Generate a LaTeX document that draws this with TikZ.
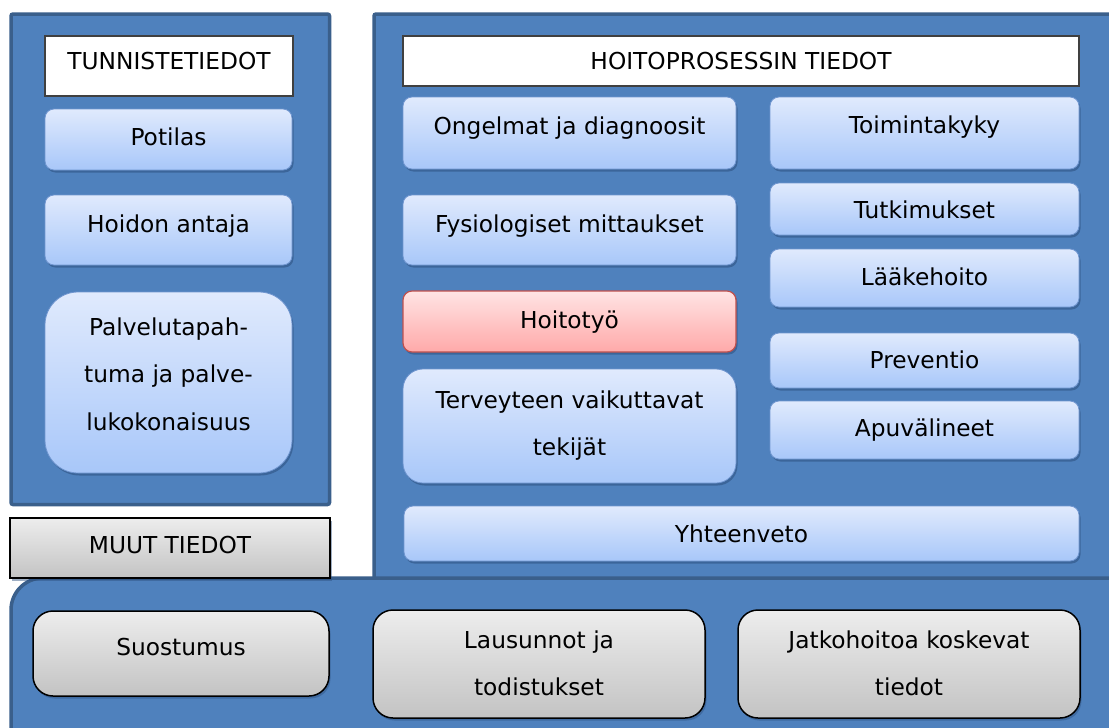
\documentclass[tikz,border=0pt]{standalone}
\usepackage{fontspec}
\setmainfont{DejaVu Sans}
\usetikzlibrary{shadows}
\definecolor{panelblue}{HTML}{4F81BD}
\definecolor{paneldark}{HTML}{3A5F8B}
\definecolor{btop}{HTML}{E0EAFD}
\definecolor{bbot}{HTML}{A8C7F9}
\definecolor{bedge}{HTML}{6F95CF}
\definecolor{ptop}{HTML}{FFE4E4}
\definecolor{pbot}{HTML}{FFA9A9}
\definecolor{pedge}{HTML}{C0504D}
\definecolor{gtop}{HTML}{EDEDED}
\definecolor{gbot}{HTML}{C3C3C3}
\definecolor{shadowblue}{HTML}{2C4F7E}
\newcommand{\mybox}[6]{\node[#2, anchor=north west, minimum width={(#5-#3)*1pt}, minimum height={(#6-#4)*1pt}] (#1) at (#3,#4) {};}
\tikzset{
  panel/.style={fill=panelblue, draw=paneldark, line width=3.5pt},
  basebox/.style={inner sep=0pt, outer sep=0pt},
  bluebox/.style={basebox, rounded corners=9pt, top color=btop, bottom color=bbot, draw=bedge, line width=0.8pt,
     drop shadow={shadow xshift=1.5pt, shadow yshift=-2.5pt, opacity=0.55, fill=shadowblue}},
  pinkbox/.style={basebox, rounded corners=9pt, top color=ptop, bottom color=pbot, draw=pedge, line width=1.2pt,
     drop shadow={shadow xshift=1.5pt, shadow yshift=-2.5pt, opacity=0.55, fill=shadowblue}},
  graybox/.style={basebox, rounded corners=20pt, top color=gtop, bottom color=gbot, draw=black, line width=1.5pt,
     drop shadow={shadow xshift=1.5pt, shadow yshift=-2.5pt, opacity=0.45, fill=shadowblue}},
  headbox/.style={basebox, fill=white, draw=black!75, line width=1.3pt},
  lbl/.style={inner sep=0pt, anchor=base, font=\fontsize{23.3}{47.5}\selectfont},
}
\begin{document}
\begin{tikzpicture}[x=1pt, y=-1pt]
\useasboundingbox (0,0) rectangle (1109,728);
\clip (0,0) rectangle (1109,728);
\fill[white] (0,0) rectangle (1109,728);
% panels
\draw[panel, rounded corners=2pt] (11,14) rectangle (329.5,504.5);
\draw[panel, rounded corners=2pt] (374,14) rectangle (1140,700);
\draw[panel, rounded corners=32pt] (11,760) -- (11,578) -- (1140,578) -- (1140,760) -- cycle;
% left column
\mybox{tunn}{headbox}{45}{36}{293}{96}
\node[lbl] (tunn-t) at (169,69) {TUNNISTETIEDOT};
\mybox{potilas}{bluebox}{45}{109}{292}{170}
\node[lbl] (potilas-t) at (168.5,145) {Potilas};
\mybox{hoidon}{bluebox}{45}{195}{292}{265}
\node[lbl] (hoidon-t) at (168.5,232) {Hoidon antaja};
\mybox{palvelu}{bluebox, rounded corners=33pt}{45}{292}{292}{473}
\node[lbl] (palvelu-t) at (168.5,335) {\begin{tabular}[t]{@{}c@{}}Palvelutapah-\\tuma ja palve-\\lukokonaisuus\end{tabular}};
% muut
\mybox{muut}{graybox, rounded corners=0pt}{10}{518}{330}{578}
\node[lbl] (muut-t) at (170,553) {MUUT TIEDOT};
% right panel
\mybox{hoito}{headbox}{403}{36}{1079}{86}
\node[lbl] (hoito-t) at (741,69) {HOITOPROSESSIN TIEDOT};
\mybox{ongelmat}{bluebox}{403}{97}{736}{169}
\node[lbl] (ongelmat-t) at (569.5,134) {Ongelmat ja diagnoosit};
\mybox{fysio}{bluebox}{403}{195}{736}{265}
\node[lbl] (fysio-t) at (569.5,232) {Fysiologiset mittaukset};
\mybox{hoitotyo}{pinkbox}{403}{291}{736}{352}
\node[lbl] (hoitotyo-t) at (569.5,328) {Hoitotyö};
\mybox{terveys}{bluebox, rounded corners=20pt}{403}{369}{736}{483}
\node[lbl] (terveys-t) at (569.5,408) {\begin{tabular}[t]{@{}c@{}}Terveyteen vaikuttavat\\tekijät\end{tabular}};
\mybox{toiminta}{bluebox}{770}{97}{1079}{169}
\node[lbl] (toiminta-t) at (924.5,133) {Toimintakyky};
\mybox{tutkim}{bluebox}{770}{183}{1079}{235}
\node[lbl] (tutkim-t) at (924.5,218) {Tutkimukset};
\mybox{laake}{bluebox}{770}{249}{1079}{307}
\node[lbl] (laake-t) at (924.5,285) {Lääkehoito};
\mybox{prevent}{bluebox}{770}{333}{1079}{388}
\node[lbl] (prevent-t) at (924.5,368) {Preventio};
\mybox{apu}{bluebox}{770}{401}{1079}{459}
\node[lbl] (apu-t) at (924.5,436) {Apuvälineet};
\mybox{yhteen}{bluebox}{404}{506}{1079}{561}
\node[lbl] (yhteen-t) at (741.5,542) {Yhteenveto};
% bottom panel
\mybox{suostumus}{graybox}{33}{611}{329}{696}
\node[lbl] (suostumus-t) at (181,655) {Suostumus};
\mybox{lausunnot}{graybox}{373}{610}{705}{718}
\node[lbl] (lausunnot-t) at (539,648) {\begin{tabular}[t]{@{}c@{}}Lausunnot ja\\todistukset\end{tabular}};
\mybox{jatko}{graybox}{738}{610}{1080}{718}
\node[lbl] (jatko-t) at (909,648) {\begin{tabular}[t]{@{}c@{}}Jatkohoitoa koskevat\\tiedot\end{tabular}};
\end{tikzpicture}
\end{document}
